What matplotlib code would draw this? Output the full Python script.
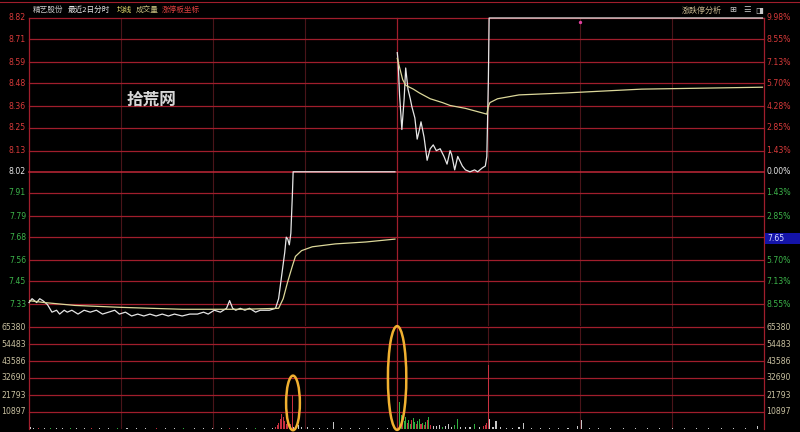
import matplotlib
matplotlib.use('Agg')
import matplotlib.pyplot as plt
from matplotlib.patches import Ellipse, Rectangle

plt.rcParams['font.family'] = ['Noto Sans CJK SC', 'DejaVu Sans']

W, H = 800, 432

# 刻度
price_ticks = [8.82, 8.71, 8.59, 8.48, 8.36, 8.25, 8.13, 8.02, 7.91, 7.79, 7.68, 7.56, 7.45, 7.33]
pct_labels = ['9.98%', '8.55%', '7.13%', '5.70%', '4.28%', '2.85%', '1.43%', '0.00%',
              '1.43%', '2.85%', '4.28%', '5.70%', '7.13%', '8.55%']
vol_ticks = [65380, 54483, 43586, 32690, 21793, 10897]
pre_close = 8.02
last_price = '7.65'

# 第一天 分时价格 / 均价
d1_t = [0, 2, 5, 7, 9, 12, 15, 18, 20, 23, 25, 28, 32, 36, 40, 44, 48, 52, 56, 59,
        63, 67, 71, 75, 79, 83, 87, 91, 95, 100, 105, 110, 114, 117, 121, 125, 129, 131, 133, 135,
        138, 141, 144, 148, 151, 154, 157, 161, 163, 165, 167, 168, 169, 170, 171, 172, 172.5, 239]
d1_p = [7.34, 7.36, 7.34, 7.36, 7.35, 7.33, 7.29, 7.30, 7.28, 7.30, 7.29, 7.30, 7.28, 7.30, 7.29, 7.30, 7.28, 7.29, 7.30, 7.28,
        7.29, 7.27, 7.28, 7.27, 7.28, 7.27, 7.28, 7.27, 7.28, 7.27, 7.28, 7.28, 7.29, 7.28, 7.30, 7.29, 7.31, 7.35, 7.31, 7.30,
        7.31, 7.30, 7.31, 7.29, 7.30, 7.30, 7.30, 7.31, 7.36, 7.48, 7.60, 7.68, 7.67, 7.64, 7.70, 7.90, 8.02, 8.02]
d1_avg_t = [0, 10, 30, 60, 100, 140, 163, 166, 169, 172, 174, 178, 185, 200, 220, 239]
d1_avg = [7.35, 7.34, 7.325, 7.315, 7.305, 7.305, 7.31, 7.36, 7.45, 7.53, 7.58, 7.61, 7.63, 7.645, 7.655, 7.67]

# 第二天
d2_t = [240.5, 241, 242, 243.5, 245, 246, 247.5, 249, 250, 252, 253.5, 255, 256, 258, 260, 262, 264, 266,
        268.5, 271, 273, 275, 276, 278, 280, 283, 285, 288, 291, 293, 296, 298, 299, 300, 300.5, 479]
d2_p = [8.64, 8.60, 8.42, 8.24, 8.40, 8.56, 8.45, 8.40, 8.36, 8.30, 8.19, 8.24, 8.28, 8.20, 8.08, 8.14, 8.16, 8.13,
        8.14, 8.10, 8.06, 8.13, 8.11, 8.03, 8.10, 8.05, 8.03, 8.02, 8.03, 8.02, 8.04, 8.05, 8.10, 8.50, 8.82, 8.82]
d2_avg_t = [240.5, 244, 246, 251, 255, 262, 270, 275, 285, 299, 300, 301, 306, 320, 350, 400, 479]
d2_avg = [8.61, 8.50, 8.47, 8.45, 8.43, 8.40, 8.38, 8.365, 8.35, 8.32, 8.36, 8.38, 8.40, 8.42, 8.43, 8.45, 8.46]

mark_t = [360]
mark_p = [8.80]

# 成交量 (分钟, 量, 颜色: r涨 g跌 w平)
vol_t = [1, 3, 6, 10, 14, 18, 22, 27, 31, 36,
         41, 46, 52, 58, 64, 70, 76, 83, 89, 95,
         101, 108, 114, 120, 126, 131, 136, 142, 148, 154,
         159, 161, 162, 163, 164, 165, 166, 167, 168, 169,
         170, 171, 172, 173, 176, 178, 182, 186, 190, 195,
         199, 204, 210, 216, 222, 228, 234, 238,
         242, 243, 244, 245, 246, 247, 248, 249, 250, 251,
         252, 253, 254, 255, 256, 257, 258, 259, 260, 261,
         262, 264, 266, 268, 270, 272, 274, 276, 278, 280,
         282, 285, 288, 291, 294, 297, 298, 299, 300, 301,
         303, 305, 308, 312, 316, 320, 323, 328, 334, 340,
         346, 352, 358, 361, 366, 372, 380, 388, 396, 404,
         412, 420, 428, 436, 444, 452, 460, 468, 476]
vol_v = [1200, 600, 500, 700, 400, 600, 500, 450, 700, 400,
         550, 400, 500, 350, 600, 400, 450, 500, 400, 350,
         500, 400, 450, 400, 500, 900, 400, 350, 450, 500,
         600, 1500, 2500, 4000, 6500, 9500, 7500, 5000, 3500, 4500,
         2500, 3000, 21800, 1500, 2500, 1200, 1000, 800, 600, 700,
         4600, 500, 600, 400, 500, 450, 600, 300,
         17300, 9000, 6500, 5000, 7500, 4000, 6000, 3500, 5500, 7000,
         4500, 3000, 5000, 6500, 3500, 4000, 2500, 4500, 5500, 7500,
         2500, 2000, 1800, 2500, 1500, 2000, 3000, 1200, 2500, 6500,
         1500, 1200, 1000, 3200, 1000, 2200, 2500, 4000, 41000, 6500,
         1500, 5100, 1000, 800, 700, 1000, 3800, 600, 500, 600,
         400, 500, 1900, 5700, 500, 400, 500, 400, 450, 400,
         500, 400, 600, 400, 500, 400, 450, 400, 1900]
vol_c = ['w', 'w', 'r', 'w', 'g', 'w', 'w', 'g', 'w', 'w',
         'r', 'w', 'w', 'g', 'w', 'w', 'w', 'r', 'w', 'w',
         'g', 'w', 'w', 'w', 'w', 'r', 'w', 'w', 'g', 'w',
         'w', 'r', 'r', 'r', 'r', 'r', 'r', 'r', 'r', 'r',
         'g', 'r', 'r', 'w', 'w', 'w', 'w', 'w', 'w', 'w',
         'w', 'w', 'w', 'w', 'w', 'w', 'w', 'w',
         'g', 'g', 'r', 'g', 'g', 'r', 'g', 'g', 'r', 'g',
         'g', 'r', 'g', 'g', 'r', 'g', 'r', 'g', 'r', 'g',
         'r', 'w', 'w', 'w', 'g', 'w', 'w', 'w', 'g', 'g',
         'w', 'w', 'w', 'g', 'w', 'r', 'r', 'r', 'r', 'w',
         'w', 'w', 'w', 'w', 'w', 'w', 'w', 'w', 'w', 'w',
         'w', 'w', 'w', 'w', 'w', 'w', 'w', 'w', 'w', 'w',
         'w', 'w', 'w', 'w', 'w', 'w', 'w', 'w', 'w']

# 标注的两个放量
circle_t = [172.4, 240.4]
circle_v = [16700, 32690]
circle_w = [9, 12]
circle_h = [35000, 66500]

RED = '#a01e2c'
DIM = '#4a1419'
UP = '#d83a3a'
DOWN = '#3cb44a'
VOLTXT = '#c8c0a0'
col_map = {'r': '#c83040', 'g': '#30b040', 'w': '#c8c8c8'}
num_font = dict(family='DejaVu Sans', fontsize=5.6)


def fx(x):
    return x / W


def fy(y):
    return 1 - y / H


fig = plt.figure(figsize=(8, 4.32), dpi=100, facecolor='black')
ax = fig.add_axes([fx(29), fy(326), 735 / W, 308 / H], facecolor='black')
axv = fig.add_axes([fx(29), fy(429), 735 / W, 102 / H], facecolor='black')

for a in (ax, axv):
    a.set_xlim(0, 480)
    a.set_xticks([])
    a.set_yticks([])
    for s in a.spines.values():
        s.set_visible(False)
    for m in [60, 120, 180, 300, 360, 420]:
        a.axvline(m, color=DIM, lw=0.8, zorder=1)
    for m in [0, 240, 480]:
        a.axvline(m, color=RED, lw=0.9, zorder=1, clip_on=False)

ax.set_ylim(7.218, 8.82)
axv.set_ylim(0, 65380)

# 价格区网格和标签
ytr = ax.get_yaxis_transform()
for p, lab in zip(price_ticks, pct_labels):
    ax.axhline(p, color=RED if p != pre_close else '#c02838', lw=0.9 if p != pre_close else 1.1,
               zorder=1, clip_on=False)
    if p > pre_close:
        c = UP
    elif p < pre_close:
        c = DOWN
    else:
        c = '#e8e8e8'
    ax.text(-0.004, p, f'{p:.2f}', color=c, ha='right', va='center', transform=ytr, **num_font)
    if lab == '4.28%' and p < pre_close:
        continue
    ax.text(1.003, p, lab, color=c, ha='left', va='center', transform=ytr, **num_font)

vtr = axv.get_yaxis_transform()
for v in vol_ticks:
    axv.axhline(v, color=RED, lw=0.9, zorder=1, clip_on=False)
    axv.text(-0.004, v, str(v), color=VOLTXT, ha='right', va='center', transform=vtr, **num_font)
    axv.text(1.003, v, str(v), color=VOLTXT, ha='left', va='center', transform=vtr, **num_font)

# 分时线
ax.plot(d1_t, d1_p, color='#e6e6e6', lw=0.9, zorder=3, clip_on=False)
ax.plot(d1_avg_t, d1_avg, color='#dcd89a', lw=0.9, zorder=3)
ax.plot(d2_t, d2_p, color='#e6e6e6', lw=0.9, zorder=3, clip_on=False)
ax.plot(d2_avg_t, d2_avg, color='#dcd89a', lw=0.9, zorder=3)
ax.scatter(mark_t, mark_p, s=2, color='#e040a0', zorder=4)

# 成交量
axv.bar(vol_t, vol_v, width=0.7, color=[col_map[c] for c in vol_c], zorder=3)

for t, v, w, h in zip(circle_t, circle_v, circle_w, circle_h):
    axv.add_patch(Ellipse((t, v), w, h, fill=False, edgecolor='#f0b030', lw=1.8, zorder=5, clip_on=False))

# 顶部标题
fig.add_artist(plt.Line2D([0, 1], [fy(2), fy(2)], color=RED, lw=0.8))
title_parts = [(33, '精艺股份', '#c8c8c8'), (68, '最近2日分时', '#e6e6e6'), (117, '均线', '#e8e070'),
               (136, '成交量', '#c8c080'), (162, '涨停板坐标', '#e04040')]
for x, s, c in title_parts:
    fig.text(fx(x), fy(10), s, color=c, fontsize=5.5, va='center', ha='left')
fig.text(fx(682), fy(10), '涨跌停分析', color='#c8b890', fontsize=5.8, va='center', ha='left')
fig.text(fx(729), fy(10), '⊞', color='#c8c8c8', fontsize=6, va='center', family='DejaVu Sans')
fig.text(fx(743), fy(10), '☰', color='#c8c8c8', fontsize=6, va='center', family='DejaVu Sans')
fig.text(fx(755), fy(10), '◨', color='#c8c8c8', fontsize=6, va='center', family='DejaVu Sans')

# 水印
fig.text(fx(127), fy(100), '拾荒网', color='#d8d8d8', fontsize=12, fontweight='bold',
         va='center', ha='left', style='italic')

# 最新价框
fig.add_artist(Rectangle((fx(765), fy(244)), 35 / W, 11 / H, facecolor='#1414a8',
                         edgecolor='none', transform=fig.transFigure))
fig.text(fx(767), fy(238.5), last_price, color='#d8d8ff', va='center', ha='left', **num_font)

fig.savefig('out.png', dpi=100, facecolor='black')
